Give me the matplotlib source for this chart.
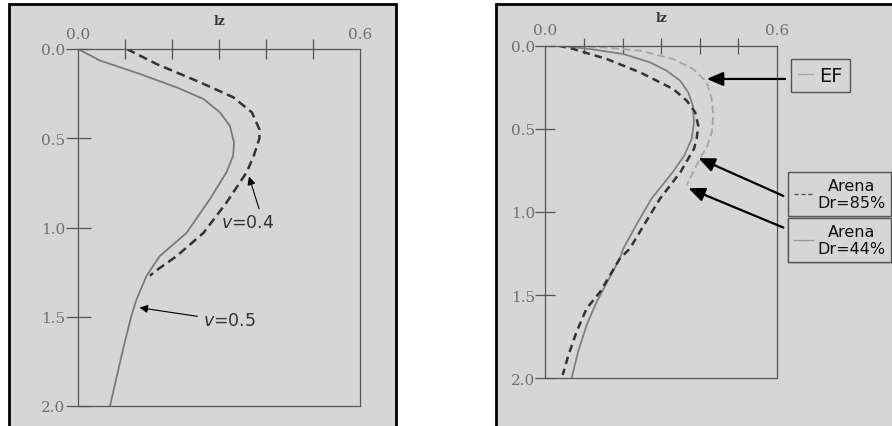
import matplotlib
matplotlib.use("Agg")
import matplotlib.pyplot as plt
from matplotlib.patches import Rectangle
from matplotlib.lines import Line2D

# ---------------- Data ---------------- #
# left panel: Iz vs depth, nu = 0.5 (solid) and nu = 0.4 (dashed)
z_nu05 = [0.0, 0.065, 0.14, 0.215, 0.28, 0.355, 0.43, 0.523, 0.598, 0.69, 0.84, 1.03, 1.16, 1.27, 1.40, 1.49, 1.68, 2.0]
iz_nu05 = [0.0, 0.047, 0.132, 0.21, 0.267, 0.302, 0.323, 0.332, 0.33, 0.316, 0.281, 0.231, 0.174, 0.146, 0.125, 0.114, 0.096, 0.068]

z_nu04 = [0.0, 0.084, 0.187, 0.27, 0.355, 0.45, 0.50, 0.598, 0.69, 0.86, 1.03, 1.16, 1.24, 1.27]
iz_nu04 = [0.104, 0.167, 0.26, 0.33, 0.37, 0.386, 0.386, 0.374, 0.359, 0.316, 0.267, 0.21, 0.167, 0.153]

# right panel: EF vs sand Dr=85% / Dr=44%
z_ef = [0.0, 0.01, 0.03, 0.08, 0.14, 0.22, 0.32, 0.42, 0.52, 0.60, 0.68, 0.75, 0.84]
iz_ef = [0.05, 0.15, 0.245, 0.331, 0.383, 0.418, 0.431, 0.435, 0.431, 0.42, 0.40, 0.385, 0.366]

z_dr85 = [0.0, 0.02, 0.05, 0.08, 0.12, 0.16, 0.21, 0.26, 0.33, 0.40, 0.48, 0.56, 0.62, 0.76, 0.92, 1.08, 1.22, 1.28, 1.48, 1.58, 1.72, 1.86, 1.98]
iz_dr85 = [0.034, 0.0725, 0.116, 0.159, 0.202, 0.245, 0.288, 0.331, 0.366, 0.388, 0.396, 0.392, 0.385, 0.35, 0.297, 0.255, 0.219, 0.193, 0.142, 0.107, 0.081, 0.06, 0.045]

z_dr44 = [0.0, 0.02, 0.05, 0.10, 0.15, 0.21, 0.28, 0.36, 0.46, 0.56, 0.66, 0.76, 0.92, 1.08, 1.22, 1.28, 1.54, 1.68, 1.84, 2.0]
iz_dr44 = [0.038, 0.116, 0.202, 0.271, 0.314, 0.349, 0.370, 0.382, 0.385, 0.379, 0.36, 0.33, 0.275, 0.235, 0.202, 0.193, 0.133, 0.107, 0.085, 0.068]

x_ticks_minor = [0.1, 0.2, 0.3, 0.4, 0.5]
x_ticks_major = [0.0, 0.6]
x_labels = ["0.0", "0.6"]
y_ticks = [0.0, 0.5, 1.0, 1.5, 2.0]
y_labels = ["0.0", "0.5", "1.0", "1.5", "2.0"]

# ---------------- Style ---------------- #
BG = "#d6d6d6"
SPINE = "#555555"
TICKTXT = "#707070"
W, H = 892, 427

fig = plt.figure(figsize=(W / 100, H / 100), dpi=100)
fig.patch.set_facecolor("white")

# paper panels with black frames (behind the axes)
for x0, x1 in [(9, 396), (496, 900)]:
    fig.patches.append(Rectangle((x0 / W, -0.1), (x1 - x0) / W, 1.1 - 5 / H,
                                 transform=fig.transFigure, facecolor=BG,
                                 edgecolor="black", lw=2.0, zorder=-5))


def setup_axes(ax, xtick_len, ytick_len):
    ax.set_xlim(0, 0.6)
    ax.set_ylim(2.0, 0.0)
    ax.set_facecolor("none")
    for s in ax.spines.values():
        s.set_color(SPINE)
        s.set_linewidth(0.9)
    ax.xaxis.tick_top()
    ax.set_xticks(x_ticks_major)
    ax.set_xticklabels(x_labels)
    ax.set_xticks(x_ticks_minor, minor=True)
    ax.tick_params(axis="x", which="major", length=0, pad=6,
                   labelsize=11, labelcolor=TICKTXT)
    ax.tick_params(axis="x", which="minor", direction="inout",
                   length=xtick_len, width=0.9, color=SPINE)
    ax.set_yticks(y_ticks)
    ax.set_yticklabels(y_labels)
    ax.tick_params(axis="y", direction="inout", length=ytick_len,
                   width=0.9, color=SPINE, pad=0, labelsize=11,
                   labelcolor=TICKTXT)
    for lab in ax.get_xticklabels() + ax.get_yticklabels():
        lab.set_family("DejaVu Serif")
    ax.xaxis.set_label_position("top")
    ax.set_xlabel("lz", fontsize=9, fontweight="bold", family="DejaVu Serif",
                  color="#333333", labelpad=2)


# ---------------- Left panel ---------------- #
ax1 = fig.add_axes([78 / W, 1 - 407 / H, 282 / W, 357 / H])
setup_axes(ax1, 14, 18)
ax1.plot(iz_nu05, z_nu05, color="#7a7a7a", lw=1.3)
ax1.plot(iz_nu04, z_nu04, color="#333333", lw=1.8, dashes=(3.5, 2))

ax1.annotate("", xy=(0.362, 0.70), xytext=(0.387, 0.91),
             arrowprops=dict(arrowstyle="-|>", color="black", lw=0.8,
                             mutation_scale=12))
ax1.text(0.36, 0.97, r"$v$=0.4", fontsize=12.5, color="#333333",
         ha="center", va="center", family="DejaVu Sans")
ax1.annotate("", xy=(0.125, 1.447), xytext=(0.26, 1.50),
             arrowprops=dict(arrowstyle="-|>", color="black", lw=0.8,
                             mutation_scale=12))
ax1.text(0.323, 1.52, r"$v$=0.5", fontsize=12.5, color="#333333",
         ha="center", va="center", family="DejaVu Sans")

# ---------------- Right panel ---------------- #
ax2 = fig.add_axes([545.3 / W, 1 - 379.3 / H, 231.7 / W, 332.6 / H])
setup_axes(ax2, 12, 15)
ef_line, = ax2.plot(iz_ef, z_ef, color="#a8a8a8", lw=1.4, dashes=(4, 2))
dr44_line, = ax2.plot(iz_dr44, z_dr44, color="#808080", lw=1.3)
dr85_line, = ax2.plot(iz_dr85, z_dr85, color="#333333", lw=1.8, dashes=(3, 2))

arrow_kw = dict(arrowstyle="-|>,head_length=0.7,head_width=0.3", color="black",
                lw=1.6, mutation_scale=14)
ax2.annotate("", xy=(0.411, 0.20), xytext=(0.628, 0.20),
             arrowprops=arrow_kw, annotation_clip=False)
ax2.annotate("", xy=(0.390, 0.669), xytext=(0.623, 0.91),
             arrowprops=arrow_kw, annotation_clip=False)
ax2.annotate("", xy=(0.364, 0.85), xytext=(0.623, 1.10),
             arrowprops=arrow_kw, annotation_clip=False)

leg_kw = dict(frameon=True, fancybox=False, borderaxespad=0,
              handletextpad=0.3, borderpad=0.35,
              bbox_transform=fig.transFigure, loc="upper left")


def add_legend(handle, label, anchor, size, hlen):
    leg = ax2.legend([handle], [label], bbox_to_anchor=anchor,
                     prop={"size": size, "family": "DejaVu Sans"},
                     handlelength=hlen, **leg_kw)
    fr = leg.get_frame()
    fr.set_edgecolor(SPINE)
    fr.set_facecolor(BG)
    fr.set_linewidth(1.0)
    fr.set_alpha(1)
    for t in leg.get_texts():
        t.set_multialignment("center")
        t.set_color("#111111")
    ax2.add_artist(leg)
    return leg


h_ef = Line2D([], [], color="#a8a8a8", lw=1.0)
h_85 = Line2D([], [], color="#555555", lw=1.0, dashes=(3, 2))
h_44 = Line2D([], [], color="#9a9a9a", lw=1.0)
add_legend(h_ef, "EF", (791 / W, 1 - 60 / H), 14, 0.8)
add_legend(h_85, "Arena\nDr=85%", (788 / W, 1 - 173 / H), 11.5, 1.2)
add_legend(h_44, "Arena\nDr=44%", (788 / W, 1 - 219 / H), 11.5, 1.2)

fig.savefig("out.png", dpi=100)
